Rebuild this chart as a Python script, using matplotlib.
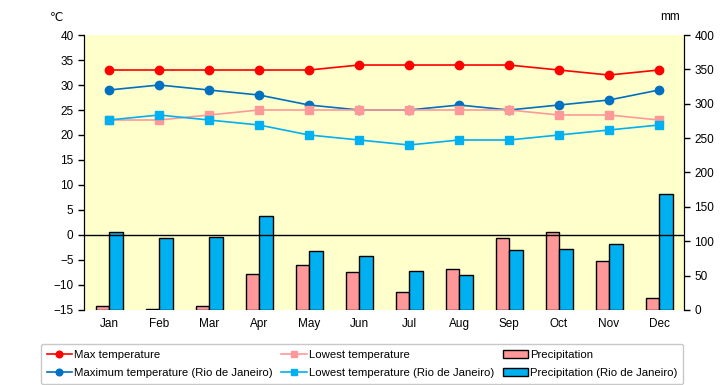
import numpy as np
import matplotlib.pyplot as plt

months = ['Jan', 'Feb', 'Mar', 'Apr', 'May', 'Jun', 'Jul', 'Aug', 'Sep', 'Oct', 'Nov', 'Dec']
max_temp = [33, 33, 33, 33, 33, 34, 34, 34, 34, 33, 32, 33]
low_temp = [23, 23, 24, 25, 25, 25, 25, 25, 25, 24, 24, 23]
rio_max = [29, 30, 29, 28, 26, 25, 25, 26, 25, 26, 27, 29]
rio_low = [23, 24, 23, 22, 20, 19, 18, 19, 19, 20, 21, 22]
precip = [5, 2, 5, 52, 66, 55, 26, 59, 104, 114, 71, 17]
rio_precip = [114, 104, 106, 137, 86, 79, 57, 51, 87, 88, 96, 168]

plt.rcParams['font.family'] = ['Liberation Sans', 'DejaVu Sans']
fig = plt.figure(figsize=(7.2, 3.85), dpi=100)
ax = fig.add_axes([0.1167, 0.195, 0.8333, 0.714])
ax2 = ax.twinx()

x = np.arange(len(months))
w = 0.27

# bars on secondary axis, drawn below lines
ax2.bar(x - w / 2, precip, w, color='#FF9999', edgecolor='black', linewidth=1, label='Precipitation')
ax2.bar(x + w / 2, rio_precip, w, color='#00B0F0', edgecolor='black', linewidth=1,
        label='Precipitation (Rio de Janeiro)')
ax2.set_ylim(0, 400)
ax2.set_yticks(range(0, 401, 50))

ax.set_zorder(ax2.get_zorder() + 1)
ax.patch.set_visible(False)
ax2.patch.set_facecolor('#FFFFCC')
ax2.patch.set_visible(True)

ax.axhline(0, color='black', lw=1)
ax.plot(x, max_temp, color='#FF0000', marker='o', ms=6, lw=1.2, label='Max temperature')
ax.plot(x, rio_max, color='#0070C0', marker='o', ms=6, lw=1.2, label='Maximum temperature (Rio de Janeiro)')
ax.plot(x, low_temp, color='#FF9999', marker='s', ms=6, lw=1.2, label='Lowest temperature')
ax.plot(x, rio_low, color='#00B0F0', marker='s', ms=6, lw=1.2, label='Lowest temperature (Rio de Janeiro)')

ax.set_ylim(-15, 40)
ax.set_yticks(range(-15, 41, 5))
ax.set_xlim(-0.5, 11.5)
ax.set_xticks(x)
ax.set_xticklabels(months)

for a in (ax, ax2):
    a.spines['top'].set_visible(False)
    a.spines['bottom'].set_visible(False)
    a.tick_params(labelsize=8.5, length=4, width=1)
ax.tick_params(axis='x', length=0, pad=6)

fig.text(0.079, 0.955, '℃', fontsize=8.5, ha='center', va='center', family='DejaVu Sans')
fig.text(0.93, 0.955, 'mm', fontsize=8.5, ha='center', va='center')

h1, l1 = ax.get_legend_handles_labels()
h2, l2 = ax2.get_legend_handles_labels()
handles = h1 + h2
labels = l1 + l2
leg = fig.legend(handles, labels, ncol=3, loc='lower left', bbox_to_anchor=(0.057, 0.003, 0.892, 0.13),
                 mode='expand', fontsize=8.2, frameon=True, fancybox=True, handlelength=2.2,
                 handletextpad=0.2, borderaxespad=0, labelspacing=0.75, columnspacing=0.5,
                 borderpad=0.5, markerscale=0.8)
leg.get_frame().set_edgecolor('#BBBBBB')

fig.savefig('out.png', dpi=100)
